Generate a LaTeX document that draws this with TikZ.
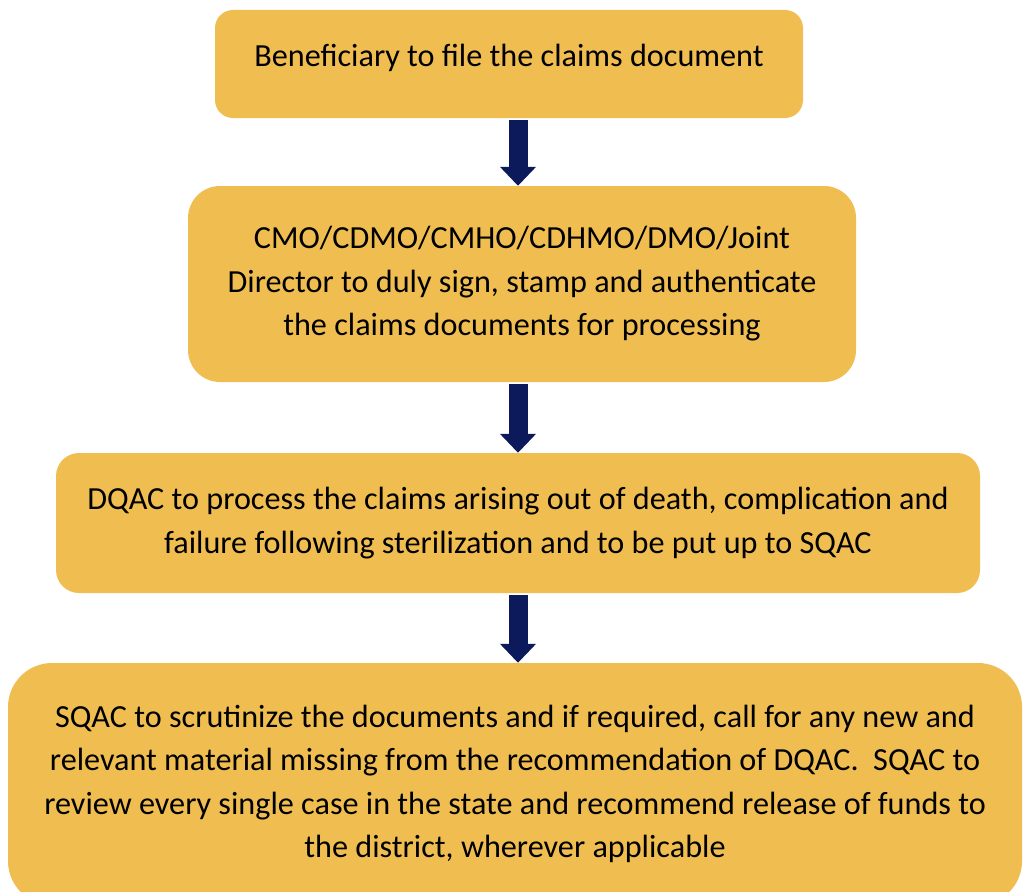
\documentclass[tikz,border=0pt]{standalone}
\usepackage{fontspec}
\setmainfont{Carlito}
\usetikzlibrary{arrows.meta}
\definecolor{boxfill}{RGB}{240,190,80}
\definecolor{navy}{RGB}{12,26,92}

\begin{document}
\begin{tikzpicture}[x=1pt,y=-1pt]
\tikzstyle{stepbox} = [fill=boxfill,align=center,inner sep=0pt,font=\fontsize{32.2}{43.5}\selectfont]
\tikzstyle{downarrow} = [navy,line width=19pt,-{Triangle[width=35pt,length=19pt]}]
\clip (0,0) rectangle (1024,891);
\fill[white] (0,0) rectangle (1024,891);

\node[stepbox,rounded corners=18pt,minimum width=588pt,minimum height=108pt,text height=22pt,text depth=17pt] (file) at (509,64) {Beneficiary to file the claims document};
\node[stepbox,rounded corners=32pt,minimum width=668pt,minimum height=196pt] (sign) at (522,284) {CMO/CDMO/CMHO/CDHMO/DMO/Joint\\Director to duly sign, stamp and authenticate\\the claims documents for processing};
\node[stepbox,rounded corners=23pt,minimum width=924pt,minimum height=140pt] (dqac) at (518,523) {DQAC to process the claims arising out of death, complication and\\failure following sterilization and to be put up to SQAC};
\node[stepbox,rounded corners=44pt,minimum width=1014pt,minimum height=242pt] (sqac) at (515,784) {SQAC to scrutinize the documents and if required, call for any new and\\relevant material missing from the recommendation of DQAC.\ \ SQAC to\\review every single case in the state and recommend release of funds to\\the district, wherever applicable};

\coordinate (axis) at (518,0);
\draw[downarrow] ([yshift=-2pt]file.south -| axis) -- (sign.north -| axis);
\draw[downarrow] ([yshift=-2pt]sign.south -| axis) -- (dqac.north -| axis);
\draw[downarrow] ([yshift=-2pt]dqac.south -| axis) -- (sqac.north -| axis);
\end{tikzpicture}
\end{document}
